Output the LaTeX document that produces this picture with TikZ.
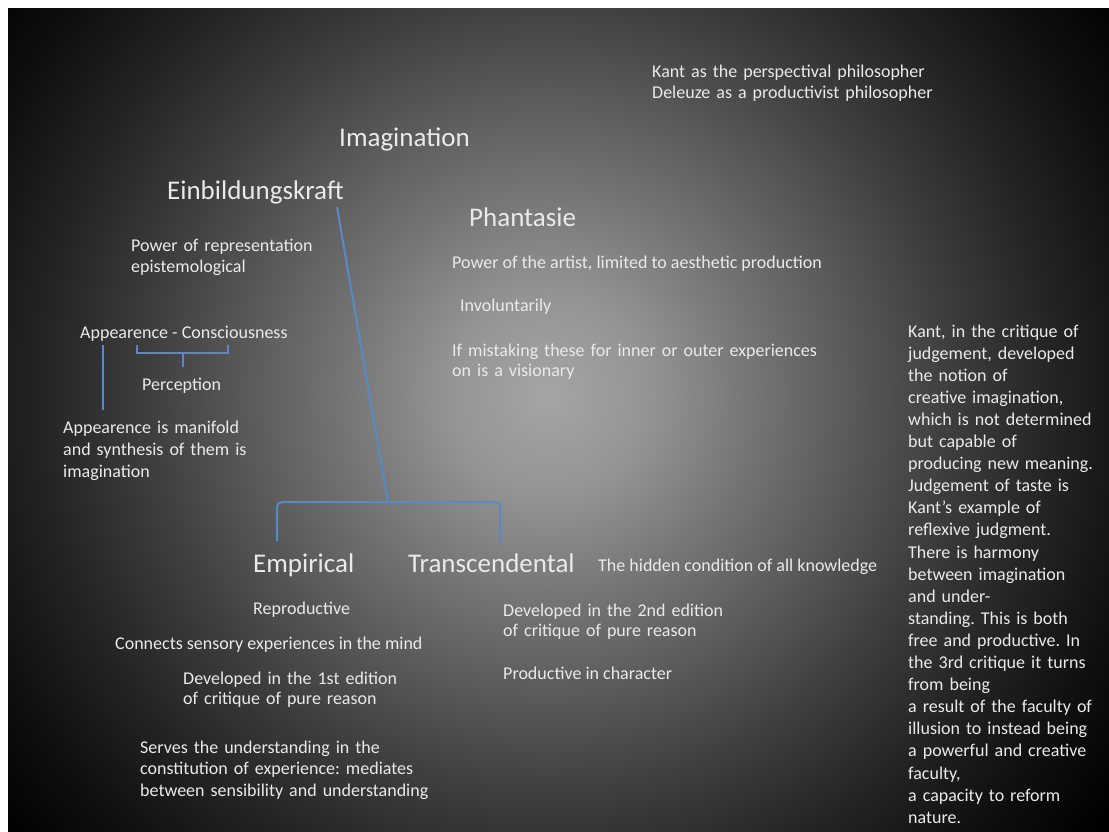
\documentclass[tikz,border=0pt]{standalone}
\usepackage{fontspec}
\setmainfont{Carlito}
\frenchspacing
\definecolor{linkblue}{RGB}{88,138,200}
\definecolor{txt}{RGB}{234,234,234}
\definecolor{bgc0}{RGB}{165,165,165}
\definecolor{bgc1}{RGB}{148,148,148}
\definecolor{bgc2}{RGB}{118,118,118}
\definecolor{bgc3}{RGB}{90,90,90}
\definecolor{bgc4}{RGB}{62,62,62}
\definecolor{bgc5}{RGB}{37,37,37}
\definecolor{bgc6}{RGB}{16,16,16}
\pgfdeclareradialshading{bgshade}{\pgfpointorigin}{color(0bp)=(bgc0); color(100bp)=(bgc1); color(200bp)=(bgc2); color(300bp)=(bgc3); color(400bp)=(bgc4); color(500bp)=(bgc5); color(600bp)=(bgc6); color(700bp)=(black); color(740bp)=(black)}
\tikzset{
  big/.style={font=\fontsize{27}{32}\selectfont, text=txt, inner sep=0pt, anchor=base west},
  small/.style={font=\fontsize{18}{22}\selectfont, text=txt, inner sep=0pt, anchor=base west},
  multi/.style={small, align=left, text width=#1},
  link/.style={draw=linkblue, line width=2pt},
}
\begin{document}
\begin{tikzpicture}[x=1pt,y=-1pt]
\useasboundingbox (0,0) rectangle (1109,832);
\fill[white] (0,0) rectangle (1109,832);
\fill[black] (8,9) rectangle (1109,832);
\begin{scope}
  \clip (8,9) rectangle (1109,832);
  \node[inner sep=0pt, outer sep=0pt] (bgglow) at (548,395) {\pgfuseshading{bgshade}};
\end{scope}

% titles
\node[big] (imag) at (339,147) {Imagination};
\node[big] (ein) at (167,200) {Einbildungskraft};
\node[big] (phan) at (469,226) {Phantasie};
\node[big] (emp) at (253,572) {Empirical};
\node[big] (trans) at (408,572) {Transcendental};

% top right
\node[multi=420pt, font=\fontsize{18}{21}\selectfont] (kant) at (652,78) {Kant as the perspectival philosopher\\Deleuze as a productivist philosopher};

% Einbildungskraft side
\node[multi=420pt, font=\fontsize{18}{21}\selectfont] (powrep) at (131,251) {Power of representation\\epistemological};
\node[small] (appcon) at (80,338) {Appearence - Consciousness};
\node[small] (perc) at (142,390) {Perception};
\node[multi=420pt] (appmani) at (63,433) {Appearence is manifold\\and synthesis of them is\\imagination};

% Phantasie side
\node[small] (artist) at (452,268) {Power of the artist, limited to aesthetic production};
\node[small] (invol) at (460,311) {Involuntarily};
\node[multi=420pt, font=\fontsize{18}{20}\selectfont] (mistake) at (452,356) {If mistaking these for inner or outer experiences\\on is a visionary};

% Empirical
\node[small] (repro) at (253,614) {Reproductive};
\node[small] (connects) at (115,649) {Connects sensory experiences in the mind};
\node[multi=420pt, font=\fontsize{18}{20}\selectfont] (dev1) at (183,684) {Developed in the 1st edition\\of critique of pure reason};
\node[multi=420pt, font=\fontsize{18}{21.5}\selectfont] (serves) at (140,753) {Serves the understanding in the\\constitution of experience: mediates\\between sensibility and understanding};

% Transcendental
\node[small] (hidden) at (598,571) {The hidden condition of all knowledge};
\node[multi=420pt, font=\fontsize{18}{20}\selectfont] (dev2) at (503,616) {Developed in the 2nd edition\\of critique of pure reason};
\node[small] (prod) at (503,679) {Productive in character};

% right column
\node[multi=240pt, font=\fontsize{18}{22.1}\selectfont] (kantcrit) at (908,337) {Kant, in the critique of\\judgement, developed\\the notion of\\creative imagination,\\which is not determined\\but capable of\\producing new meaning.\\Judgement of taste is\\Kant’s example of\\reflexive judgment.\\There is harmony\\between imagination\\and under-\\standing. This is both\\free and productive. In\\the 3rd critique it turns\\from being\\a result of the faculty of\\illusion to instead being\\a powerful and creative\\faculty,\\a capacity to reform\\nature.};

% connector coordinates
\coordinate (einfoot) at (337,207);
\coordinate (junc) at (388,502);
\coordinate (bl) at (277,502);
\coordinate (br) at (500,502);
\coordinate (empfoot) at (277,541);
\coordinate (transfoot) at (500,542);
\coordinate (pl) at (137,345);
\coordinate (plb) at (137,353);
\coordinate (prb) at (228,353);
\coordinate (pr) at (228,345);
\coordinate (pmid) at (183,353);
\coordinate (pstem) at (183,367);
\coordinate (apptop) at (103,345);
\coordinate (appbot) at (103,410);

\draw[link] (einfoot) -- (junc);
\draw[link, rounded corners=5pt] (empfoot) -- (bl) -- (br) -- (transfoot);
\draw[link] (pl) -- (plb) -- (prb) -- (pr);
\draw[link] (pmid) -- (pstem);
\draw[link] (apptop) -- (appbot);
\end{tikzpicture}
\end{document}
